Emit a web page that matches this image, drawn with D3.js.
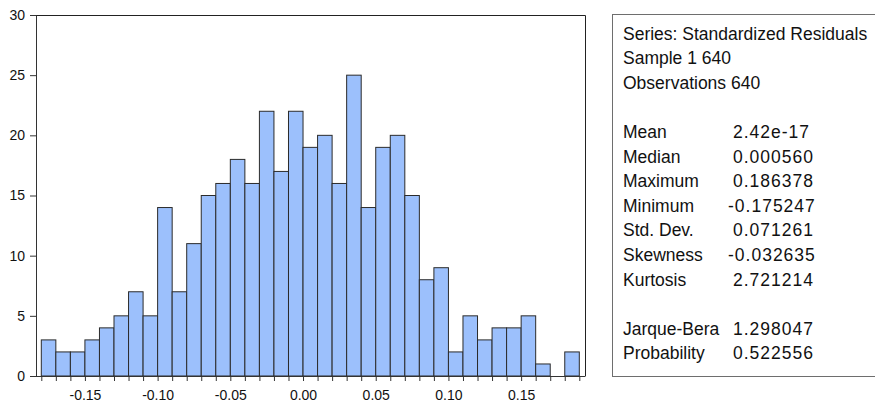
<!DOCTYPE html>
<html>
  <head>
    <style>
      body {
        margin: 0;
        background: #fff;
        font-family: Arial, "Liberation Sans", Helvetica, sans-serif;
      }
      .bar {
        fill: #9cc0fc;
        stroke: #2b2b2b;
        stroke-width: 1;
      }
      .axis text {
        font-size: 14px;
        fill: #111;
      }
      .axis path, .axis line {
        stroke: #333;
      }
      .frame {
        fill: none;
        stroke: #222;
      }
      .stats-box {
        fill: #fff;
        stroke: #6e6e6e;
      }
      .stats text {
        font-size: 17.5px;
        fill: #111;
      }
      .stats text.value {
        letter-spacing: 1px;
      }
    </style>
  </head>
  <body>
    <script src="https://d3js.org/d3.v7.min.js"></script>
    <script>
      // bin edges of the histogram (width 0.01)
      const binEdges = [-0.18, -0.17, -0.16, -0.15, -0.14, -0.13, -0.12, -0.11, -0.10, -0.09,
        -0.08, -0.07, -0.06, -0.05, -0.04, -0.03, -0.02, -0.01, 0.00, 0.01, 0.02, 0.03, 0.04,
        0.05, 0.06, 0.07, 0.08, 0.09, 0.10, 0.11, 0.12, 0.13, 0.14, 0.15, 0.16, 0.17, 0.18, 0.19];
      // counts per bin
      const counts = [3, 2, 2, 3, 4, 5, 7, 5, 14, 7, 11, 15, 16, 18, 16, 22, 17, 22,
        19, 20, 16, 25, 14, 19, 20, 15, 8, 9, 2, 5, 3, 4, 4, 5, 1, 0, 2];
      const xLabelTicks = ['-0.15', '-0.10', '-0.05', '0.00', '0.05', '0.10', '0.15'];
      const yTicks = [0, 5, 10, 15, 20, 25, 30];

      const headerLines = ['Series: Standardized Residuals', 'Sample 1 640', 'Observations 640'];
      const statNames = ['Mean', 'Median', 'Maximum', 'Minimum', 'Std. Dev.', 'Skewness', 'Kurtosis'];
      const statValues = ['2.42e-17', '0.000560', '0.186378', '-0.175247', '0.071261', '-0.032635', '2.721214'];
      const testNames = ['Jarque-Bera', 'Probability'];
      const testValues = ['1.298047', '0.522556'];

      const width = 875, height = 403;
      const plot = { left: 36, right: 585, top: 15, bottom: 376 };

      const svg = d3.select('body').append('svg')
        .attr('width', width)
        .attr('height', height);

      const x = d3.scaleLinear()
        .domain([-0.18, 0.19])
        .range([41.3, 579.3]);

      const y = d3.scaleLinear()
        .domain([0, 30])
        .range([plot.bottom, plot.top]);

      const bins = counts.map((c, i) => ({ x0: binEdges[i], x1: binEdges[i + 1], count: c }));

      svg.append('g')
        .selectAll('rect')
        .data(bins.filter(d => d.count > 0))
        .join('rect')
        .attr('class', 'bar')
        .attr('x', d => x(d.x0))
        .attr('y', d => y(d.count))
        .attr('width', d => x(d.x1) - x(d.x0))
        .attr('height', d => y(0) - y(d.count));

      // plot frame (top and right sides)
      svg.append('path')
        .attr('class', 'frame')
        .attr('d', `M${plot.left},${plot.top + 0.5}H${plot.right + 0.5}V${plot.bottom}`);

      const xAxis = d3.axisBottom(x)
        .tickValues(binEdges)
        .tickSize(5)
        .tickPadding(9)
        .tickSizeOuter(0)
        .tickFormat(d => xLabelTicks.includes(d.toFixed(2)) ? d.toFixed(2) : '');

      svg.append('g')
        .attr('class', 'axis x-axis')
        .attr('transform', `translate(0,${plot.bottom})`)
        .call(xAxis)
        .call(g => g.select('.domain').attr('d', `M${plot.left},0.5H${plot.right + 0.5}`));

      const yAxis = d3.axisLeft(y)
        .tickValues(yTicks)
        .tickSize(6)
        .tickPadding(5)
        .tickSizeOuter(0);

      svg.append('g')
        .attr('class', 'axis y-axis')
        .attr('transform', `translate(${plot.left},0)`)
        .call(yAxis);

      // statistics box
      const stats = svg.append('g').attr('class', 'stats');
      stats.append('rect')
        .attr('class', 'stats-box')
        .attr('x', 612.5)
        .attr('y', 14.5)
        .attr('width', 300)
        .attr('height', 362);

      const lineH = 24.6, firstBase = 39.5;
      const textX = 623, valueX = 733;

      stats.selectAll('text.head')
        .data(headerLines)
        .join('text')
        .attr('class', 'head')
        .attr('x', textX)
        .attr('y', (d, i) => firstBase + i * lineH)
        .text(d => d);

      const rows = statNames.map((n, i) => ({ name: n, value: statValues[i], row: 4 + i }))
        .concat(testNames.map((n, i) => ({ name: n, value: testValues[i], row: 12 + i })));

      stats.selectAll('text.name')
        .data(rows)
        .join('text')
        .attr('class', 'name')
        .attr('x', textX)
        .attr('y', d => firstBase + d.row * lineH)
        .text(d => d.name);

      // values start in one column, a minus sign hangs to the left
      stats.selectAll('text.value')
        .data(rows)
        .join('text')
        .attr('class', 'value')
        .attr('x', valueX)
        .attr('dx', d => d.value.startsWith('-') ? -5 : 0)
        .attr('y', d => firstBase + d.row * lineH)
        .text(d => d.value);
    </script>
  </body>
</html>
